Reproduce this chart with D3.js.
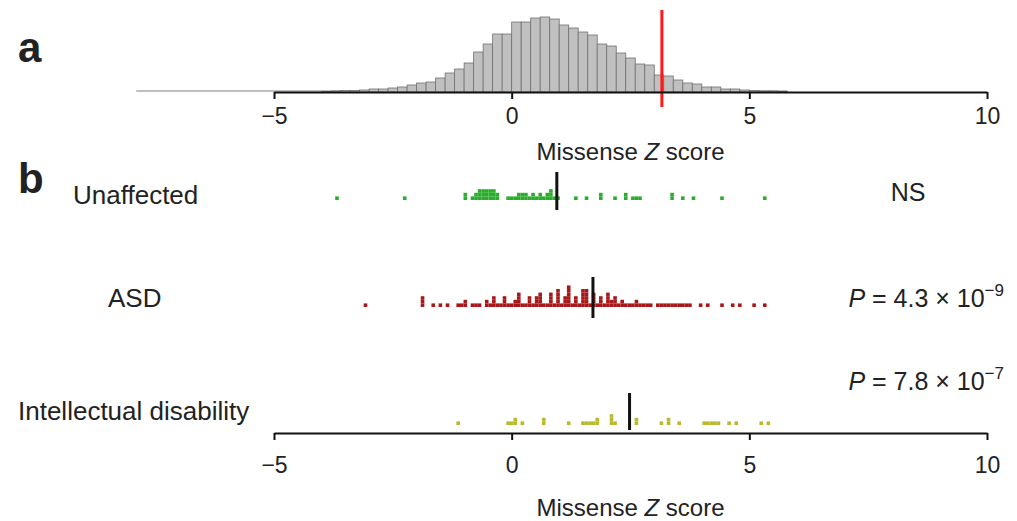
<!DOCTYPE html>
<html>
<head>
<meta charset="utf-8">
<script src="https://cdn.jsdelivr.net/npm/d3@7"></script>
<style>
  body { margin: 0; background: #fff; }
  text { font-family: "Liberation Sans", Arial, Helvetica, sans-serif; fill: #222; }
</style>
</head>
<body>
<div class="chart"></div>
<script>
// panel a: histogram of missense Z scores (bin lower edges, bin width 0.2)
const binStart = [-4.0, -3.8, -3.6, -3.4, -3.2, -3.0, -2.8, -2.6, -2.4, -2.2, -2.0, -1.8, -1.6, -1.4, -1.2, -1.0,
  -0.8, -0.6, -0.4, -0.2, 0.0, 0.2, 0.4, 0.6, 0.8, 1.0, 1.2, 1.4, 1.6, 1.8, 2.0, 2.2, 2.4, 2.6, 2.8,
  3.0, 3.2, 3.4, 3.6, 3.8, 4.0, 4.2, 4.4, 4.6, 4.8, 5.0, 5.2, 5.4, 5.6];
const binCounts = [5, 10, 15, 15, 20, 30, 30, 40, 50, 70, 90, 100, 140, 190, 230, 290,
  400, 480, 580, 580, 700, 700, 740, 750, 730, 670, 640, 600, 570, 480, 460, 390, 340, 280, 270,
  170, 160, 120, 90, 80, 50, 50, 30, 30, 20, 15, 10, 10, 5];
const histRange = [-7.9, 5.8];
const threshold = 3.16;

const xTicks = [-5, 0, 5, 10];

// panel b: per-variant Z scores
const rows = ['Unaffected', 'ASD', 'Intellectual disability'];
const rowColors = ['#2aad2a', '#a81818', '#b9b92e'];
const rowMedians = [0.95, 1.71, 2.48];
const rowStats = ['NS', 'P = 4.3 × 10|−9', 'P = 7.8 × 10|−7'];

const unaffected = [-3.65, -2.25, -0.97, -0.97, -0.8, -0.78, -0.74, -0.7, -0.7, -0.66, -0.62, -0.6, -0.58,
  -0.55, -0.52, -0.5, -0.48, -0.45, -0.42, -0.4, -0.38, -0.35, -0.32, -0.3, -0.05, 0.02, 0.08, 0.12, 0.15,
  0.2, 0.25, 0.3, 0.3, 0.38, 0.42, 0.42, 0.55, 0.6, 0.6, 0.7, 0.72, 0.78, 0.8, 0.8, 0.86, 0.88, 0.97,
  1.34, 1.58, 1.86, 1.86, 2.2, 2.42, 2.42, 2.55, 2.62, 2.7, 3.37, 3.37, 3.6, 3.82, 4.45, 5.3];

const asd = [-3.09, -1.9, -1.9, -1.9, -1.68, -1.51, -1.34, -1.09, -1.05, -0.98, -0.98, -0.81, -0.75, -0.67,
  -0.53, -0.53, -0.45, -0.4, -0.35, -0.35, -0.3, -0.22, -0.15, -0.15, -0.15, -0.08, 0.0, 0.05, 0.05,
  0.12, 0.18, 0.18, 0.18, 0.25, 0.3, 0.38, 0.38, 0.38, 0.45, 0.5, 0.5, 0.55, 0.62, 0.62, 0.62, 0.62,
  0.7, 0.75, 0.8, 0.85, 0.85, 0.85, 0.92, 0.98, 0.98, 0.98, 0.98, 0.98, 1.05, 1.1, 1.1, 1.1, 1.18, 1.22, 1.22, 1.22, 1.22, 1.22,
  1.3, 1.35, 1.35, 1.35, 1.4, 1.48, 1.48, 1.48, 1.48, 1.48, 1.55, 1.6, 1.6, 1.6, 1.6, 1.65, 1.75, 1.75, 1.75, 1.75, 1.82,
  1.88, 1.88, 1.88, 1.95, 2.0, 2.0, 2.0, 2.0, 2.08, 2.12, 2.2, 2.2, 2.2, 2.28, 2.35, 2.35, 2.42, 2.5, 2.55,
  2.62, 2.62, 2.7, 2.8, 2.88, 2.95, 3.05, 3.12, 3.2, 3.3, 3.38, 3.45, 3.55, 3.62, 3.7, 3.78, 3.97, 4.1,
  4.39, 4.66, 4.8, 5.08, 5.3];

const intellectual = [-1.13, -0.1, 0.02, 0.1, 0.1, 0.21, 0.64, 0.64, 1.23, 1.5, 1.58, 1.65, 1.72, 1.82, 1.82,
  2.07, 2.1, 2.1, 2.14, 2.6, 2.6, 3.12, 3.33, 3.33, 3.55, 4.03, 4.1, 4.18, 4.25, 4.32, 4.6, 4.75, 5.26, 5.4];

const rowValues = [unaffected, asd, intellectual];

const W = 1017, H = 521;
const svg = d3.select('.chart').append('svg')
  .attr('width', W)
  .attr('height', H);

const x = d3.scaleLinear().domain([-5, 10]).range([274, 987]);

// ---- panel a ----
const histBase = 92;
const yHist = d3.scaleLinear()
  .domain([0, d3.max(binCounts)])
  .range([histBase, 17]);

svg.append('line')
  .attr('x1', x(histRange[0])).attr('x2', x(histRange[1]))
  .attr('y1', histBase - 1).attr('y2', histBase - 1)
  .attr('stroke', '#aaa').attr('stroke-width', 1.5);

svg.append('g').selectAll('rect')
  .data(binStart)
  .enter()
  .append('rect')
  .attr('x', d => x(d))
  .attr('width', d => x(d + 0.2) - x(d))
  .attr('y', (d, i) => yHist(binCounts[i]))
  .attr('height', (d, i) => histBase - yHist(binCounts[i]))
  .attr('fill', '#c0c0c0')
  .attr('stroke', '#707070')
  .attr('stroke-width', 0.8);

svg.append('line')
  .attr('x1', x(threshold)).attr('x2', x(threshold))
  .attr('y1', 10).attr('y2', 107)
  .attr('stroke', '#ff1a1a')
  .attr('stroke-width', 3);

function drawAxis(y, pad) {
  const xAxis = d3.axisBottom(x)
    .tickValues(xTicks)
    .tickSize(7)
    .tickSizeOuter(0)
    .tickPadding(pad);
  const g = svg.append('g')
    .attr('transform', `translate(0, ${y})`)
    .call(xAxis);
  g.select('.domain').attr('stroke', '#111').attr('stroke-width', 2);
  g.selectAll('.tick line').attr('stroke', '#111').attr('stroke-width', 2);
  g.selectAll('.tick text')
    .style('font-family', '"Liberation Sans", Arial, sans-serif')
    .style('font-size', '23px')
    .attr('fill', '#222');
  return g;
}

function axisTitle(y) {
  const t = svg.append('text')
    .attr('x', x(2.5))
    .attr('y', y)
    .attr('text-anchor', 'middle')
    .style('font-size', '24px');
  t.append('tspan').text('Missense ');
  t.append('tspan').style('font-style', 'italic').text('Z');
  t.append('tspan').text(' score');
}

drawAxis(histBase, 9);
axisTitle(160);

svg.append('text')
  .attr('x', 18).attr('y', 62)
  .style('font-size', '42px').style('font-weight', 'bold')
  .text('a');

// ---- panel b ----
svg.append('text')
  .attr('x', 18).attr('y', 193)
  .style('font-size', '42px').style('font-weight', 'bold')
  .text('b');

const rowBase = [200, 307, 425];
const medianSpan = [[172, 210], [277, 318], [393, 430]];
const labelX = [73, 108, 18];
const labelY = [204, 307, 420];
const statY = [201, 307, 390];
const dot = 3.6;
const binW = 0.075;

rowValues.forEach((vals, r) => {
  const counts = new Map();
  const pts = [];
  vals.forEach(v => {
    const b = Math.round(v / binW);
    const k = counts.get(b) || 0;
    counts.set(b, k + 1);
    pts.push({ b, k });
  });

  svg.append('g').selectAll('rect')
    .data(pts)
    .enter()
    .append('rect')
    .attr('x', d => x(d.b * binW) - dot / 2)
    .attr('y', d => rowBase[r] - (d.k + 1) * dot)
    .attr('width', dot)
    .attr('height', dot)
    .attr('fill', rowColors[r]);

  svg.append('line')
    .attr('x1', x(rowMedians[r])).attr('x2', x(rowMedians[r]))
    .attr('y1', medianSpan[r][0]).attr('y2', medianSpan[r][1])
    .attr('stroke', '#111')
    .attr('stroke-width', 3);

  svg.append('text')
    .attr('x', labelX[r]).attr('y', labelY[r])
    .style('font-size', '26px')
    .text(rows[r]);

  const parts = rowStats[r].split('|');
  const st = svg.append('text')
    .attr('y', statY[r])
    .style('font-size', '25px');
  if (parts.length === 1) {
    st.attr('x', 908).attr('text-anchor', 'middle').text(parts[0]);
  } else {
    st.attr('x', 1004).attr('text-anchor', 'end');
    st.append('tspan').style('font-style', 'italic').text('P');
    st.append('tspan').text(parts[0].slice(1));
    st.append('tspan').attr('dy', -11).style('font-size', '17px').text(parts[1]);
  }
});

drawAxis(433, 17);
axisTitle(516);
</script>
</body>
</html>
